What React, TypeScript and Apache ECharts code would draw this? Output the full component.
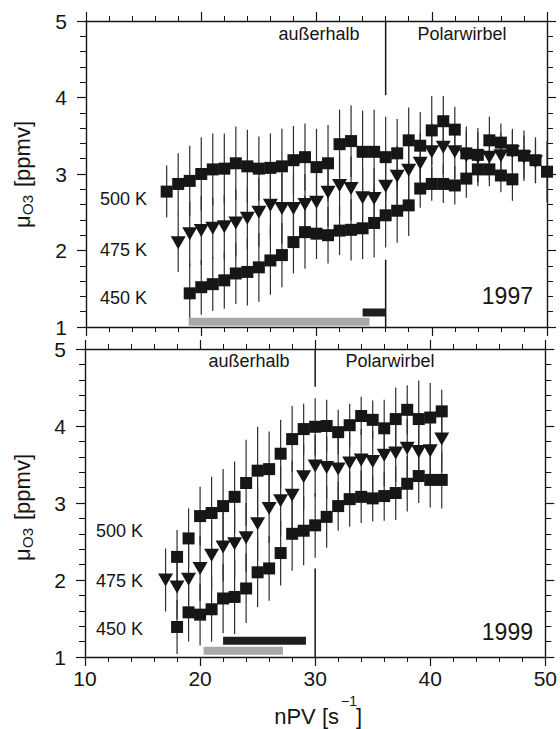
import React, { useEffect, useRef } from "react";
import * as echarts from "echarts";

// ---------- 1997 (top panel) ----------
const x97_500 = [17, 18, 19, 20, 21, 22, 23, 24, 25, 26, 27, 28, 29, 30, 31, 32, 33, 34, 35, 36, 37, 38, 39, 40, 41, 42, 43, 44, 45, 46, 47, 48, 49, 50];
const y97_500 = [2.77, 2.87, 2.91, 3.0, 3.06, 3.07, 3.14, 3.1, 3.07, 3.08, 3.1, 3.18, 3.22, 3.09, 3.14, 3.39, 3.43, 3.29, 3.29, 3.22, 3.27, 3.44, 3.37, 3.57, 3.69, 3.58, 3.27, 3.25, 3.44, 3.41, 3.31, 3.24, 3.18, 3.03];
const e97_500 = [0.34, 0.4, 0.46, 0.48, 0.47, 0.46, 0.48, 0.48, 0.42, 0.45, 0.49, 0.45, 0.44, 0.5, 0.5, 0.45, 0.47, 0.54, 0.55, 0.53, 0.45, 0.43, 0.44, 0.45, 0.33, 0.3, 0.35, 0.35, 0.31, 0.25, 0.26, 0.33, 0.3, 0.4];

const x97_475 = [18, 19, 20, 21, 22, 23, 24, 25, 26, 27, 28, 29, 30, 31, 32, 33, 34, 35, 36, 37, 38, 39, 40, 41, 42, 43, 44, 45, 46, 47, 48, 49];
const y97_475 = [2.1, 2.22, 2.26, 2.29, 2.31, 2.36, 2.42, 2.5, 2.59, 2.55, 2.55, 2.6, 2.63, 2.76, 2.85, 2.81, 2.69, 2.68, 2.84, 2.97, 3.05, 3.14, 3.29, 3.35, 3.29, 3.24, 3.22, 3.22, 3.24, 3.29, 3.22, 3.16];
const e97_475 = [0.38, 0.42, 0.45, 0.4, 0.42, 0.44, 0.4, 0.45, 0.42, 0.46, 0.44, 0.4, 0.42, 0.45, 0.4, 0.42, 0.4, 0.4, 0.38, 0.4, 0.42, 0.4, 0.38, 0.36, 0.35, 0.32, 0.33, 0.3, 0.3, 0.3, 0.28, 0.28];

const x97_450 = [19, 20, 21, 22, 23, 24, 25, 26, 27, 28, 29, 30, 31, 32, 33, 34, 35, 36, 37, 38, 39, 40, 41, 42, 43, 44, 45, 46, 47];
const y97_450 = [1.44, 1.52, 1.56, 1.61, 1.7, 1.72, 1.78, 1.87, 1.94, 2.11, 2.24, 2.22, 2.2, 2.26, 2.27, 2.29, 2.36, 2.46, 2.52, 2.59, 2.81, 2.87, 2.87, 2.85, 2.94, 3.06, 3.06, 2.98, 2.93];
const e97_450 = [0.39, 0.36, 0.35, 0.37, 0.4, 0.44, 0.45, 0.45, 0.42, 0.41, 0.48, 0.33, 0.37, 0.32, 0.4, 0.4, 0.45, 0.42, 0.42, 0.4, 0.25, 0.22, 0.25, 0.25, 0.25, 0.22, 0.22, 0.22, 0.28];

// ---------- 1999 (bottom panel) ----------
const x99_500 = [18, 19, 20, 21, 22, 23, 24, 25, 26, 27, 28, 29, 30, 31, 32, 33, 34, 35, 36, 37, 38, 39, 40, 41];
const y99_500 = [2.3, 2.54, 2.83, 2.87, 2.96, 3.08, 3.26, 3.42, 3.44, 3.64, 3.83, 3.96, 3.99, 4.0, 3.92, 4.01, 4.13, 4.08, 3.97, 4.09, 4.21, 4.09, 4.11, 4.19];
const e99_500 = [0.35, 0.39, 0.38, 0.47, 0.48, 0.46, 0.56, 0.57, 0.49, 0.44, 0.43, 0.33, 0.37, 0.34, 0.29, 0.28, 0.25, 0.25, 0.37, 0.41, 0.32, 0.5, 0.45, 0.28];

const x99_475 = [17, 18, 19, 20, 21, 22, 23, 24, 25, 26, 27, 28, 29, 30, 31, 32, 33, 34, 35, 36, 37, 38, 39, 40, 41];
const y99_475 = [2.0, 1.91, 2.01, 2.15, 2.32, 2.43, 2.47, 2.55, 2.73, 2.93, 3.03, 3.1, 3.34, 3.48, 3.46, 3.44, 3.52, 3.56, 3.54, 3.62, 3.65, 3.71, 3.67, 3.68, 3.83];
const e99_475 = [0.41, 0.42, 0.45, 0.42, 0.45, 0.45, 0.45, 0.45, 0.48, 0.45, 0.45, 0.45, 0.42, 0.4, 0.4, 0.42, 0.4, 0.4, 0.4, 0.4, 0.38, 0.38, 0.4, 0.4, 0.42];

const x99_450 = [18, 19, 20, 21, 22, 23, 24, 25, 26, 27, 28, 29, 30, 31, 32, 33, 34, 35, 36, 37, 38, 39, 40, 41];
const y99_450 = [1.39, 1.58, 1.55, 1.62, 1.76, 1.78, 1.89, 2.1, 2.15, 2.35, 2.6, 2.64, 2.71, 2.82, 2.96, 3.05, 3.08, 3.06, 3.09, 3.13, 3.25, 3.35, 3.3, 3.3];
const e99_450 = [0.35, 0.38, 0.4, 0.42, 0.45, 0.48, 0.45, 0.45, 0.42, 0.42, 0.48, 0.45, 0.42, 0.4, 0.32, 0.36, 0.34, 0.3, 0.32, 0.35, 0.36, 0.35, 0.36, 0.37];

// horizontal range bars: [x start, x end, y]
const rangeGray97 = [[18.9, 34.6, 1.07]];
const rangeDark97 = [[34.0, 36.0, 1.19]];
const rangeGray99 = [[20.3, 27.2, 1.08]];
const rangeDark99 = [[22.0, 29.2, 1.21]];

// vortex edge line segments: [x, y from, y to]
const edge97 = [[36, 4.03, 5], [36, 1, 1.88]];
const edge99 = [[30, 4.51, 5], [30, 1, 2.15]];

const levelLabels = ["500 K", "475 K", "450 K"];
const regionLabels = ["außerhalb", "Polarwirbel"];
const yearLabels = ["1997", "1999"];

const FONT = "'Liberation Sans', Arial, Helvetica, sans-serif";
const INK = "#151515";

const pts = (xs: number[], ys: number[]) => xs.map((x, i) => [x, ys[i]]);
const errs = (xs: number[], ys: number[], es: number[]) =>
  xs.map((x, i) => [x, +(ys[i] - es[i]).toFixed(3), +(ys[i] + es[i]).toFixed(3)]);

const errRender = (params: any, api: any) => {
  const x = api.value(0);
  const a = api.coord([x, api.value(1)]);
  const b = api.coord([x, api.value(2)]);
  return {
    type: "line",
    shape: { x1: a[0], y1: a[1], x2: b[0], y2: b[1] },
    style: { stroke: "#2e2e2e", lineWidth: 1.2 },
  };
};

const vlineRender = (params: any, api: any) => {
  const x = api.value(0);
  const a = api.coord([x, api.value(1)]);
  const b = api.coord([x, api.value(2)]);
  return {
    type: "line",
    shape: { x1: a[0], y1: a[1], x2: b[0], y2: b[1] },
    style: { stroke: INK, lineWidth: 1.5 },
  };
};

const rangeRender = (color: string) => (params: any, api: any) => {
  const y = api.value(2);
  const a = api.coord([api.value(0), y]);
  const b = api.coord([api.value(1), y]);
  return {
    type: "rect",
    shape: { x: a[0], y: a[1] - 4, width: b[0] - a[0], height: 8 },
    style: { fill: color },
  };
};

const xAx = (gridIndex: number, position: string, showLabel: boolean) => ({
  type: "value",
  gridIndex,
  position,
  min: 10,
  max: 50,
  interval: 10,
  axisLine: { show: true, onZero: false, lineStyle: { color: INK, width: 1.4 } },
  axisTick: { show: true, inside: false, length: 9, lineStyle: { color: INK, width: 1.2 } },
  minorTick: { show: true, splitNumber: 5, length: 5, lineStyle: { color: INK, width: 1 } },
  splitLine: { show: false },
  minorSplitLine: { show: false },
  axisLabel: { show: showLabel, fontSize: 21, color: INK, margin: 11, fontFamily: FONT },
});

const yAx = (gridIndex: number, position: string, showLabel: boolean) => ({
  type: "value",
  gridIndex,
  position,
  min: 1,
  max: 5,
  interval: 1,
  axisLine: { show: true, onZero: false, lineStyle: { color: INK, width: 1.4 } },
  axisTick: { show: true, inside: false, length: 9, lineStyle: { color: INK, width: 1.2 } },
  minorTick: { show: true, splitNumber: 5, length: 6, lineStyle: { color: INK, width: 1 } },
  splitLine: { show: false },
  minorSplitLine: { show: false },
  axisLabel: { show: showLabel, fontSize: 21, color: INK, margin: 19, fontFamily: FONT },
});

const MARK = { color: "#161616", opacity: 1 };

const panelSeries = (
  xi: number,
  yi: number,
  s500: [number[], number[], number[]],
  s475: [number[], number[], number[]],
  s450: [number[], number[], number[]],
  gray: number[][],
  dark: number[][],
  edge: number[][]
) => {
  const base = { xAxisIndex: xi, yAxisIndex: yi };
  const errSeries = (s: [number[], number[], number[]]) => ({
    ...base,
    type: "custom",
    renderItem: errRender,
    encode: { x: 0, y: [1, 2] },
    data: errs(s[0], s[1], s[2]),
    z: 2,
    silent: true,
  });
  return [
    errSeries(s500),
    errSeries(s475),
    errSeries(s450),
    {
      ...base,
      type: "scatter",
      name: "500 K",
      symbol: "rect",
      symbolSize: [12, 12],
      itemStyle: MARK,
      data: pts(s500[0], s500[1]),
      z: 3,
    },
    {
      ...base,
      type: "scatter",
      name: "475 K",
      symbol: "triangle",
      symbolRotate: 180,
      symbolSize: [15, 13],
      itemStyle: MARK,
      data: pts(s475[0], s475[1]),
      z: 3,
    },
    {
      ...base,
      type: "scatter",
      name: "450 K",
      symbol: "rect",
      symbolSize: [12, 12],
      itemStyle: MARK,
      data: pts(s450[0], s450[1]),
      z: 3,
    },
    {
      ...base,
      type: "custom",
      renderItem: rangeRender("#a8a8a8"),
      encode: { x: [0, 1], y: 2 },
      data: gray,
      z: 2,
    },
    {
      ...base,
      type: "custom",
      renderItem: rangeRender("#1e1e1e"),
      encode: { x: [0, 1], y: 2 },
      data: dark,
      z: 2,
    },
    {
      ...base,
      type: "custom",
      renderItem: vlineRender,
      encode: { x: 0, y: [1, 2] },
      data: edge,
      z: 4,
    },
  ];
};

const txt = (text: string, x: number, y: number, size: number, align = "center") => ({
  type: "text",
  x,
  y,
  z: 10,
  style: {
    text,
    fill: INK,
    font: `${size}px ${FONT}`,
    textAlign: align,
    textVerticalAlign: "middle",
  },
});

const yName = (cy: number) => ({
  type: "group",
  x: 22,
  y: cy,
  rotation: Math.PI / 2,
  z: 10,
  children: [
    {
      type: "text",
      x: -58,
      y: 0,
      style: { text: "μ", fill: INK, font: `22px ${FONT}`, textAlign: "left", textVerticalAlign: "middle" },
    },
    {
      type: "text",
      x: -45,
      y: 5,
      style: { text: "O3", fill: INK, font: `15px ${FONT}`, textAlign: "left", textVerticalAlign: "middle" },
    },
    {
      type: "text",
      x: -17,
      y: 0,
      style: { text: "[ppmv]", fill: INK, font: `22px ${FONT}`, textAlign: "left", textVerticalAlign: "middle" },
    },
  ],
});

export default function App() {
  const ref = useRef<HTMLDivElement>(null);
  useEffect(() => {
    document.body.style.margin = "0";
    if (!ref.current) return;
    const chart = echarts.init(ref.current, null, { renderer: "svg" });
    const option: any = {
      animation: false,
      backgroundColor: "#ffffff",
      textStyle: { fontFamily: FONT },
      grid: [
        { left: 86, top: 21, width: 461, height: 306 },
        { left: 85, top: 349, width: 462, height: 308 },
      ],
      xAxis: [xAx(0, "bottom", false), xAx(0, "top", false), xAx(1, "top", false), xAx(1, "bottom", true)],
      yAxis: [yAx(0, "left", true), yAx(0, "right", false), yAx(1, "left", true), yAx(1, "right", false)],
      series: [
        ...panelSeries(
          0,
          0,
          [x97_500, y97_500, e97_500],
          [x97_475, y97_475, e97_475],
          [x97_450, y97_450, e97_450],
          rangeGray97,
          rangeDark97,
          edge97
        ),
        ...panelSeries(
          3,
          2,
          [x99_500, y99_500, e99_500],
          [x99_475, y99_475, e99_475],
          [x99_450, y99_450, e99_450],
          rangeGray99,
          rangeDark99,
          edge99
        ),
      ],
      graphic: [
        txt(regionLabels[0], 319, 34, 18),
        txt(regionLabels[1], 462, 34, 18),
        txt(regionLabels[0], 249, 361, 18),
        txt(regionLabels[1], 390, 361, 18),
        txt(levelLabels[0], 100, 199, 18, "left"),
        txt(levelLabels[1], 100, 250, 18, "left"),
        txt(levelLabels[2], 100, 298, 18, "left"),
        txt(levelLabels[0], 96, 531, 18, "left"),
        txt(levelLabels[1], 96, 581, 18, "left"),
        txt(levelLabels[2], 96, 629, 18, "left"),
        txt(yearLabels[0], 533, 296, 23, "right"),
        txt(yearLabels[1], 533, 632, 23, "right"),
        yName(170),
        yName(503),
        txt("nPV [s", 339, 716, 22, "right"),
        txt("−1", 341, 701, 14, "left"),
        txt("]", 356, 716, 22, "left"),
      ],
    };
    chart.setOption(option);
    return () => chart.dispose();
  }, []);
  return <div ref={ref} style={{ width: 560, height: 729 }} />;
}
